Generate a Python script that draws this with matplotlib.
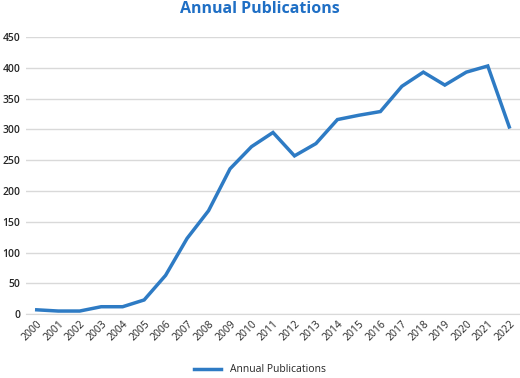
import numpy as np
import matplotlib
matplotlib.use("Agg")
import matplotlib.pyplot as plt

# --- Data ---
years = [str(y) for y in range(2000, 2023)]
publications = [7, 5, 5, 12, 12, 23, 63, 123, 168, 236, 272, 295,
                257, 277, 316, 323, 329, 370, 393, 372, 393, 403, 304]
yticks = [0, 50, 100, 150, 200, 250, 300, 350, 400, 450]

line_color = "#2E7BC4"
text_color = "#262626"

plt.rcParams['font.family'] = ['Open Sans', 'DejaVu Sans']

fig = plt.figure(figsize=(5.2, 3.78), dpi=100)
ax = fig.add_axes([0.05, 0.169, 0.95, 0.733])

x = np.arange(len(years))
ax.plot(x, publications, color=line_color, linewidth=2.5,
        label="Annual Publications", solid_joinstyle="miter")

ax.set_xlim(-0.5, len(years) - 0.5)
ax.set_ylim(0, 450)
ax.set_yticks(yticks)
ax.set_yticklabels([str(v) for v in yticks], fontsize=7.5, color=text_color,
                   fontweight="semibold")
ax.set_xticks(x)
ax.set_xticklabels(years, rotation=45, ha="right", va="top",
                   rotation_mode="anchor", fontsize=7.5, color=text_color)

ax.grid(axis="y", color="#D9D9D9", linewidth=1)
ax.set_axisbelow(True)
for s in ax.spines.values():
    s.set_visible(False)
ax.spines["bottom"].set_visible(True)
ax.spines["bottom"].set_color("#D9D9D9")
ax.tick_params(length=0, pad=4)
ax.tick_params(axis="x", pad=3)

fig.suptitle("Annual Publications", fontsize=11.5, fontweight="bold",
             color="#1F6FC5", x=0.5, y=0.998, va="top")

fig.legend(loc="lower center", bbox_to_anchor=(0.5, -0.018), frameon=False,
           fontsize=7.5, handlelength=2.6, labelcolor=text_color)

fig.savefig("out.png", dpi=100)
